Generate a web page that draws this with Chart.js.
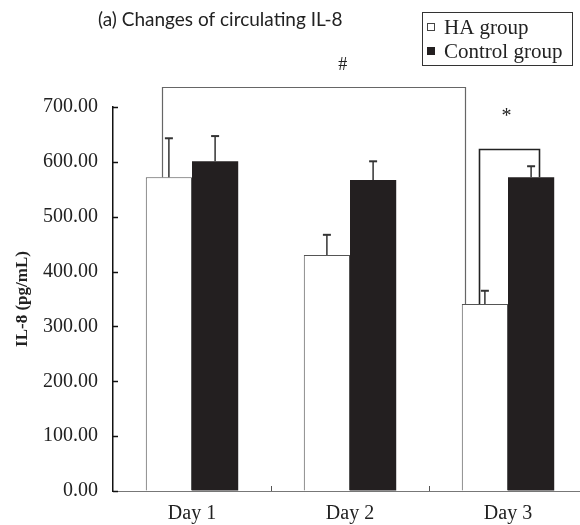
<!DOCTYPE html>
<html>
<head>
<meta charset="utf-8">
<script src="https://cdn.jsdelivr.net/npm/chart.js@4.4.1/dist/chart.umd.min.js"></script>
<style>
  html, body { margin: 0; padding: 0; background: #fff; overflow: hidden; }
  #wrap { position: relative; width: 590px; height: 525px; }
</style>
</head>
<body>
<div id="wrap"><canvas id="c" width="590" height="525"></canvas></div>
<script>
// Circulating IL-8 (pg/mL), mean and SD per day
const days = ['Day 1', 'Day 2', 'Day 3'];
const haMean = [572, 430, 341];
const haSD = [71, 37, 24];
const ctrlMean = [601, 567, 572];
const ctrlSD = [46, 34, 20];
const yTickValues = [0, 100, 200, 300, 400, 500, 600, 700];
const seriesNames = ['HA group', 'Control group'];
const chartTitle = '(a) Changes of circulating IL-8';
const yAxisTitle = 'IL-8 (pg/mL)';
// significance brackets: label and bracket height in pg/mL
const sigLabels = ['#', '*'];
const sigLevels = [736, 624];

const SERIF = '"Liberation Serif", "DejaVu Serif", serif';

// draws error bars, inner tick marks, significance brackets, title and legend box
const decorations = {
  id: 'decorations',
  afterDraw(chart) {
    const ctx = chart.ctx;
    const xs = chart.scales.x, ys = chart.scales.y;
    const area = chart.chartArea;
    const sds = [haSD, ctrlSD];
    const means = [haMean, ctrlMean];
    ctx.save();

    // error bars (upper half)
    [0, 1].forEach(d => {
      const meta = chart.getDatasetMeta(d);
      meta.data.forEach((el, i) => {
        const top = ys.getPixelForValue(means[d][i] + sds[d][i]);
        ctx.strokeStyle = '#333';
        ctx.lineWidth = 1.5;
        ctx.beginPath();
        ctx.moveTo(el.x, el.y);
        ctx.lineTo(el.x, top);
        ctx.stroke();
        ctx.lineWidth = 2;
        ctx.beginPath();
        ctx.moveTo(el.x - 4, top);
        ctx.lineTo(el.x + 4, top);
        ctx.stroke();
      });
    });

    // inward tick marks on the value axis
    ctx.strokeStyle = '#111';
    ctx.lineWidth = 1.5;
    yTickValues.forEach(v => {
      const y = Math.round(ys.getPixelForValue(v)) + 0.5;
      ctx.beginPath();
      ctx.moveTo(area.left, y);
      ctx.lineTo(area.left + 5, y);
      ctx.stroke();
    });
    // category separators on the x axis
    ctx.strokeStyle = '#555';
    ctx.lineWidth = 1;
    for (let i = 0; i < days.length - 1; i++) {
      const x = Math.round((xs.getPixelForValue(i) + xs.getPixelForValue(i + 1)) / 2) + 0.5;
      ctx.beginPath();
      ctx.moveTo(x, area.bottom);
      ctx.lineTo(x, area.bottom - 5);
      ctx.stroke();
    }

    // significance brackets
    const haEls = chart.getDatasetMeta(0).data;
    const ctEls = chart.getDatasetMeta(1).data;
    const legX = (el, f) => el.x - el.width / 2 + el.width * f;
    const brackets = [
      { a: haEls[0], fa: 0.35, b: haEls[2], fb: 0.07, color: '#666', lw: 1.2, labelAt: 0.595, gap: 22, font: '18px ' + SERIF },
      { a: haEls[2], fa: 0.38, b: ctEls[2], fb: 0.68, color: '#222', lw: 1.6, labelAt: 0.45, gap: 33, font: '20px ' + SERIF }
    ];
    brackets.forEach((br, k) => {
      const yTop = Math.round(ys.getPixelForValue(sigLevels[k])) + 0.5;
      const x1 = Math.round(legX(br.a, br.fa)) + 0.5;
      const x2 = Math.round(legX(br.b, br.fb)) + 0.5;
      ctx.strokeStyle = br.color;
      ctx.lineWidth = br.lw;
      ctx.beginPath();
      ctx.moveTo(x1, br.a.y);
      ctx.lineTo(x1, yTop);
      ctx.lineTo(x2, yTop);
      ctx.lineTo(x2, br.b.y);
      ctx.stroke();
      ctx.fillStyle = '#222';
      ctx.font = br.font;
      ctx.textAlign = 'center';
      ctx.textBaseline = 'middle';
      ctx.fillText(sigLabels[k], x1 + (x2 - x1) * br.labelAt, yTop - br.gap);
    });

    // title
    ctx.fillStyle = '#222';
    ctx.font = '19px Lato, "Open Sans", sans-serif';
    ctx.textAlign = 'left';
    ctx.textBaseline = 'middle';
    ctx.fillText(chartTitle, 98, 20);

    // legend box
    ctx.strokeStyle = '#333';
    ctx.lineWidth = 1;
    ctx.strokeRect(422.5, 12.5, 150, 53);
    ctx.font = '21px ' + SERIF;
    ctx.textBaseline = 'middle';
    const rows = [27, 51];
    seriesNames.forEach((name, i) => {
      const ds = chart.data.datasets[i];
      const y = rows[i];
      if (i === 0) {
        ctx.strokeStyle = '#444';
        ctx.strokeRect(427.5, y - 3.5, 7, 7);
      } else {
        ctx.fillStyle = ds.backgroundColor;
        ctx.fillRect(427, y - 4, 8, 8);
      }
      ctx.fillStyle = '#222';
      ctx.fillText(name, 444, y + 1);
    });

    ctx.restore();
  }
};

new Chart(document.getElementById('c'), {
  type: 'bar',
  data: {
    labels: days,
    datasets: [
      { label: seriesNames[0], data: haMean, backgroundColor: '#ffffff', borderColor: '#555555', borderWidth: 1 },
      { label: seriesNames[1], data: ctrlMean, backgroundColor: '#231f20', borderColor: '#231f20', borderWidth: 0 }
    ]
  },
  options: {
    responsive: false,
    devicePixelRatio: 1,
    animation: false,
    events: [],
    layout: { padding: { top: 107, right: 3, bottom: 0, left: 0 } },
    datasets: { bar: { barPercentage: 1, categoryPercentage: 0.585 } },
    plugins: { legend: { display: false }, title: { display: false }, tooltip: { enabled: false } },
    scales: {
      x: {
        grid: { drawOnChartArea: false, drawTicks: false },
        border: { color: '#777', width: 1 },
        ticks: { font: { family: SERIF, size: 20 }, color: '#222', padding: 11 },
        afterFit: s => { s.height = 34; }
      },
      y: {
        min: 0, max: 700,
        afterBuildTicks: s => { s.ticks = yTickValues.map(v => ({ value: v })); },
        grid: { drawOnChartArea: false, drawTicks: false },
        border: { color: '#111', width: 1.5 },
        ticks: { font: { family: SERIF, size: 20 }, color: '#222', padding: 15, callback: v => Number(v).toFixed(2) },
        title: { display: true, text: yAxisTitle, font: { family: SERIF, size: 17, weight: 'bold' }, color: '#222', padding: { top: 12, bottom: 0 } },
        afterFit: s => { s.width = 113; }
      }
    }
  },
  plugins: [decorations]
});
</script>
</body>
</html>
